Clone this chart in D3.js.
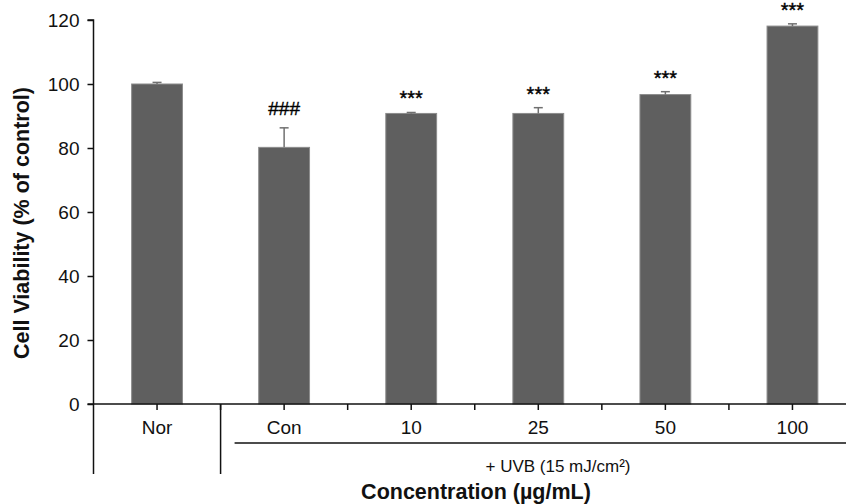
<!DOCTYPE html>
<html>
<head>
<meta charset="utf-8">
<script src="https://cdn.jsdelivr.net/npm/d3@7"></script>
<style>
  html, body { margin: 0; padding: 0; background: #fff; }
  svg { display: block; font-family: "Liberation Sans", Arial, sans-serif; }
</style>
</head>
<body>
<svg id="chart" width="846" height="504"></svg>
<script>
// Cell viability after UVB exposure, by treatment concentration
const categories = ["Nor", "Con", "10", "25", "50", "100"];
const means = [100, 80.2, 90.8, 90.8, 96.7, 118.1];
const errors = [0.5, 6.1, 0.3, 1.8, 0.9, 0.7];
const marks = ["", "###", "***", "***", "***", "***"];
const yTicks = [0, 20, 40, 60, 80, 100, 120];
const groupLabel = "+ UVB (15 mJ/cm²)";
const xTitle = "Concentration (µg/mL)";
const yTitle = "Cell Viability (% of control)";

const svg = d3.select("#chart");
const plotLeft = 93.5, plotRight = 856, plotTop = 20, plotBottom = 404;

const x = d3.scaleBand().domain(categories).range([plotLeft, plotRight]).padding(0);
const y = d3.scaleLinear().domain([0, 120]).range([plotBottom, plotTop]);
const barW = x.bandwidth() * 0.4;
const cx = d => x(d) + x.bandwidth() / 2;

const data = categories.map((c, i) => ({ c, m: means[i], e: errors[i], mark: marks[i] }));

// bars
svg.append("g").selectAll("rect").data(data).join("rect")
  .attr("x", d => cx(d.c) - barW / 2)
  .attr("y", d => y(d.m))
  .attr("width", barW)
  .attr("height", d => y(0) - y(d.m))
  .attr("fill", "#5f5f5f")
  .attr("stroke", "#8c8c8c")
  .attr("stroke-width", 1);

// upper error bars
const eb = svg.append("g").attr("stroke", "#707070").attr("stroke-width", 1.5);
eb.selectAll("line.v").data(data).join("line").attr("class", "v")
  .attr("x1", d => cx(d.c)).attr("x2", d => cx(d.c))
  .attr("y1", d => y(d.m)).attr("y2", d => y(d.m + d.e));
eb.selectAll("line.cap").data(data).join("line").attr("class", "cap")
  .attr("x1", d => cx(d.c) - 4.5).attr("x2", d => cx(d.c) + 4.5)
  .attr("y1", d => y(d.m + d.e)).attr("y2", d => y(d.m + d.e));

// significance marks
svg.append("g").selectAll("text").data(data.filter(d => d.mark)).join("text")
  .attr("x", d => cx(d.c))
  .attr("y", d => d.mark === "###" ? y(d.m + d.e) - 13 : y(d.m + d.e) - 7)
  .attr("text-anchor", "middle")
  .attr("font-size", d => d.mark === "###" ? 19 : 20)
  .attr("fill", "#000")
  .attr("stroke", "#000")
  .attr("stroke-width", 0.4)
  .text(d => d.mark);

// y axis
const yAxis = svg.append("g").attr("transform", `translate(${plotLeft},0)`)
  .call(d3.axisLeft(y).tickValues(yTicks).tickSize(6).tickPadding(8));
yAxis.select(".domain").attr("stroke", "#111").attr("stroke-width", 1.5).attr("d", `M-6,${plotTop}H0V${plotBottom}`);
yAxis.selectAll(".tick line").attr("stroke", "#111").attr("stroke-width", 1.5);
yAxis.selectAll(".tick text").attr("font-size", 19).attr("fill", "#111")
  .attr("font-family", "Liberation Sans, Arial, sans-serif");

// x axis: labels at centres, tick marks at centres and band edges
const xAxis = svg.append("g").attr("transform", `translate(0,${plotBottom})`)
  .call(d3.axisBottom(x).tickSize(6).tickPadding(11));
xAxis.select(".domain").attr("stroke", "#111").attr("stroke-width", 1.5).attr("d", `M${plotLeft - 6},0H${plotRight}`);
xAxis.selectAll(".tick line").attr("stroke", "#111").attr("stroke-width", 1.5);
xAxis.selectAll(".tick text").attr("font-size", 19).attr("fill", "#111")
  .attr("font-family", "Liberation Sans, Arial, sans-serif");
xAxis.selectAll("line.edge").data(categories.slice(1)).join("line").attr("class", "edge")
  .attr("x1", d => x(d)).attr("x2", d => x(d))
  .attr("y1", 0).attr("y2", 6)
  .attr("stroke", "#111").attr("stroke-width", 1.5);

// group dividers below the axis
svg.append("g").selectAll("line").data([categories[0], categories[1]]).join("line")
  .attr("x1", d => x(d)).attr("x2", d => x(d))
  .attr("y1", plotBottom).attr("y2", 474)
  .attr("stroke", "#111").attr("stroke-width", 1.5);

// UVB group bracket line and label
svg.append("line")
  .attr("x1", x(categories[1]) + 14).attr("x2", 880)
  .attr("y1", 443).attr("y2", 443)
  .attr("stroke", "#111").attr("stroke-width", 1.5);
svg.append("text")
  .attr("x", 558).attr("y", 472)
  .attr("text-anchor", "middle").attr("font-size", 17).attr("fill", "#111")
  .text(groupLabel);

// axis titles
svg.append("text")
  .attr("x", 476).attr("y", 499)
  .attr("text-anchor", "middle").attr("font-size", 21.5).attr("font-weight", "bold").attr("fill", "#111")
  .text(xTitle);
svg.append("text")
  .attr("transform", `translate(29,223) rotate(-90)`)
  .attr("text-anchor", "middle").attr("font-size", 21.5).attr("font-weight", "bold").attr("fill", "#111")
  .text(yTitle);
</script>
</body>
</html>
